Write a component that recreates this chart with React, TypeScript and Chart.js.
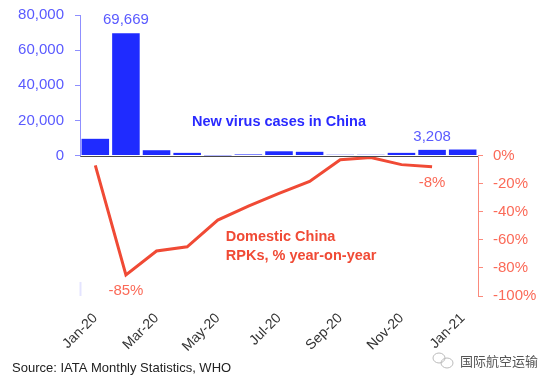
import React, { useEffect, useRef } from 'react';
import { Chart, registerables } from 'chart.js';

Chart.register(...registerables);

const months = ['Jan-20', 'Feb-20', 'Mar-20', 'Apr-20', 'May-20', 'Jun-20', 'Jul-20', 'Aug-20', 'Sep-20', 'Oct-20', 'Nov-20', 'Dec-20', 'Jan-21'];
const newCases = [9500, 69669, 3000, 1500, 100, 600, 2400, 2100, 400, 400, 1500, 3208, 3400];
const rpkChange: (number | null)[] = [-7, -85, -68, -65, -46, -36, -27, -18.5, -3, -1.5, -6.5, -8, null];
const caseCallouts = [{ index: 1, text: '69,669' }, { index: 11, text: '3,208' }];
const rpkCallouts = [{ index: 1, text: '-85%' }, { index: 11, text: '-8%' }];
const casesTitle = 'New virus cases in China';
const rpkTitle = ['Domestic China', 'RPKs, % year-on-year'];
const sourceText = 'Source: IATA Monthly Statistics, WHO';
const watermark = '国际航空运输';

const BLUE = '#1f2bff';
const BLUE_TEXT = '#5a5aff';
const RED = '#f04a35';
const RED_TEXT = '#fb6a58';
const FONT = '"Liberation Sans", Arial, sans-serif';

const overlay = {
  id: 'overlay',
  afterDatasetsDraw(chart: any) {
    const { ctx, chartArea, scales } = chart;
    const x = scales.x;
    const y = scales.y;
    const y1 = scales.y1;
    ctx.save();
    // zero baseline
    const y0 = Math.round(y.getPixelForValue(0)) + 0.5;
    ctx.strokeStyle = '#4a4a4a';
    ctx.lineWidth = 1;
    ctx.beginPath();
    ctx.moveTo(chartArea.left, y0);
    ctx.lineTo(chartArea.right, y0);
    ctx.stroke();
    // left axis line (positive part)
    const lx = Math.round(chartArea.left) + 0.5;
    ctx.strokeStyle = '#8f8fff';
    ctx.beginPath();
    ctx.moveTo(lx, y.getPixelForValue(80000));
    ctx.lineTo(lx, y0);
    ctx.stroke();
    ctx.strokeStyle = '#e4e4ff';
    ctx.lineWidth = 2;
    ctx.beginPath();
    ctx.moveTo(lx, y.getPixelForValue(-72000));
    ctx.lineTo(lx, y.getPixelForValue(-80000));
    ctx.stroke();
    // right axis line (negative part)
    const rx = Math.round(chartArea.right) + 0.5;
    ctx.lineWidth = 1;
    ctx.strokeStyle = '#fb8a7c';
    ctx.beginPath();
    ctx.moveTo(rx, y0);
    ctx.lineTo(rx, y1.getPixelForValue(-100));
    ctx.stroke();

    // callouts
    ctx.textAlign = 'center';
    ctx.textBaseline = 'middle';
    ctx.font = `15px ${FONT}`;
    ctx.fillStyle = BLUE_TEXT;
    caseCallouts.forEach((c) => {
      ctx.fillText(c.text, x.getPixelForValue(c.index), y.getPixelForValue(newCases[c.index]) - 13);
    });
    ctx.fillStyle = RED_TEXT;
    rpkCallouts.forEach((c) => {
      ctx.fillText(c.text, x.getPixelForValue(c.index), y1.getPixelForValue(rpkChange[c.index] as number) + 16);
    });
    // series titles
    ctx.font = `bold 14.5px ${FONT}`;
    ctx.fillStyle = '#2a2aff';
    ctx.fillText(casesTitle, x.getPixelForValue(6), y.getPixelForValue(19300));
    ctx.textAlign = 'left';
    ctx.fillStyle = RED;
    const tx = x.getPixelForValue(4) + 8;
    const ty = y1.getPixelForValue(-58);
    ctx.fillText(rpkTitle[0], tx, ty);
    ctx.fillText(rpkTitle[1], tx, ty + 19);
    // source
    ctx.font = `13px ${FONT}`;
    ctx.fillStyle = '#222';
    ctx.fillText(sourceText, 12, 368);
    // watermark
    ctx.fillStyle = '#555';
    ctx.font = `13px "Noto Sans CJK SC", sans-serif`;
    ctx.fillText(watermark, 460, 361);
    ctx.strokeStyle = '#bbb';
    ctx.lineWidth = 1;
    ctx.beginPath();
    ctx.ellipse(439, 358, 6, 5, 0, 0, Math.PI * 2);
    ctx.stroke();
    ctx.beginPath();
    ctx.ellipse(447, 363, 6, 5, 0, 0, Math.PI * 2);
    ctx.stroke();
    ctx.restore();
  },
};

export default function App() {
  const ref = useRef<HTMLCanvasElement | null>(null);
  useEffect(() => {
    const canvas = ref.current;
    if (!canvas) return;
    const chart = new Chart(canvas, {
      data: {
        labels: months,
        datasets: [
          {
            type: 'line' as const,
            data: rpkChange,
            yAxisID: 'y1',
            borderColor: RED,
            borderWidth: 3,
            pointRadius: 0,
            tension: 0,
            spanGaps: false,
            order: 0,
          },
          {
            type: 'bar' as const,
            data: newCases,
            yAxisID: 'y',
            backgroundColor: BLUE,
            borderWidth: 0,
            categoryPercentage: 0.9,
            barPercentage: 1,
            order: 1,
          },
        ],
      },
      options: {
        responsive: false,
        animation: false,
        layout: { padding: { top: 15, left: 0, right: 0, bottom: 0 } },
        plugins: { legend: { display: false }, tooltip: { enabled: false } },
        scales: {
          x: {
            grid: { display: false },
            border: { display: false },
            ticks: {
              autoSkip: false,
              minRotation: 45,
              maxRotation: 45,
              padding: 6,
              color: '#333',
              font: { family: FONT, size: 14 },
              callback: (v: any, i: number) => (i % 2 === 0 ? months[i] : ''),
            },
            afterFit: (s: any) => { s.height = 90; s.paddingLeft = 0; s.paddingRight = 0; },
          },
          y: {
            position: 'left',
            min: -80000,
            max: 80000,
            border: { display: false },
            grid: {
              drawOnChartArea: false,
              tickLength: 5,
              color: '#8f8fff',
            },
            ticks: {
              stepSize: 20000,
              padding: 11,
              color: BLUE_TEXT,
              font: { family: FONT, size: 15 },
              callback: (v: any) => (v >= 0 ? Number(v).toLocaleString('en-US') : null),
            },
            afterFit: (s: any) => { s.width = 80; s.paddingTop = 0; s.paddingBottom = 0; },
          },
          y1: {
            position: 'right',
            min: -100,
            max: 100,
            border: { display: false },
            grid: {
              drawOnChartArea: false,
              tickLength: 5,
              color: '#fb8a7c',
            },
            ticks: {
              stepSize: 20,
              padding: 10,
              color: RED_TEXT,
              font: { family: FONT, size: 15 },
              callback: (v: any) => (v <= 0 ? `${v}%` : null),
            },
            afterFit: (s: any) => { s.width = 76; s.paddingTop = 0; s.paddingBottom = 0; },
          },
        },
      },
      plugins: [overlay],
    } as any);
    return () => chart.destroy();
  }, []);
  return (
    <div style={{ position: 'fixed', left: 0, top: 0, width: 554, height: 386, background: '#fff' }}>
      <canvas ref={ref} width={554} height={386} style={{ width: 554, height: 386 }} />
    </div>
  );
}
